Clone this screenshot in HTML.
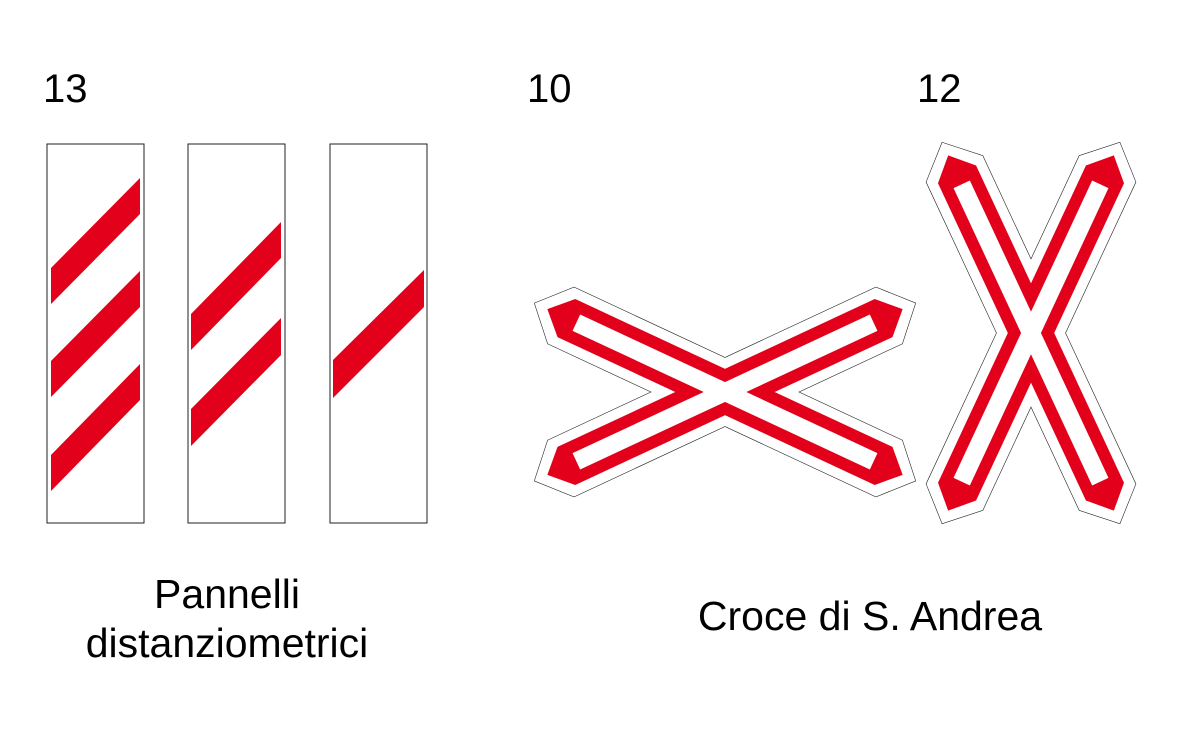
<!DOCTYPE html>
<html><head><meta charset="utf-8"><style>
html,body{margin:0;padding:0;background:#fff}
svg{display:block}
text{font-family:"Liberation Sans",Arial,sans-serif;fill:#000}
</style></head><body>
<svg width="1200" height="735" viewBox="0 0 1200 735">
<defs>
<polygon id="outer" points="-210,0 -181,-31 181,-31 210,0 181,31 -181,31"/>
<polygon id="red" points="-196,0 -175,-21 175,-21 196,0 175,21 -175,21"/>
<rect id="inner" x="-164" y="-9" width="328" height="18"/>
<g id="cross">
  <use href="#outer" transform="rotate(25)" fill="#fff" stroke="#222" stroke-width="1.2"/>
  <use href="#outer" transform="rotate(-25)" fill="#fff" stroke="#222" stroke-width="1.2"/>
  <use href="#outer" transform="rotate(25)" fill="#fff"/>
  <use href="#outer" transform="rotate(-25)" fill="#fff"/>
  <use href="#red" transform="rotate(25)" fill="#e2001a"/>
  <use href="#red" transform="rotate(-25)" fill="#e2001a"/>
  <use href="#inner" transform="rotate(25)" fill="#fff"/>
  <use href="#inner" transform="rotate(-25)" fill="#fff"/>
</g>
</defs>

<text x="43" y="102" font-size="40">13</text>
<text x="527" y="102" font-size="40">10</text>
<text x="917" y="102" font-size="40">12</text>

<g>
<rect x="47" y="144" width="97" height="379" fill="#fff" stroke="#222" stroke-width="1"/>
<polygon points="51,268 140,178 140,214 51,304" fill="#e2001a"/>
<polygon points="51,361 140,271 140,307 51,397" fill="#e2001a"/>
<polygon points="51,455 140,364 140,400 51,491" fill="#e2001a"/>
</g>
<g>
<rect x="188" y="144" width="97" height="379" fill="#fff" stroke="#222" stroke-width="1"/>
<polygon points="191,314 281,222 281,258 191,350" fill="#e2001a"/>
<polygon points="191,409 281,318 281,355 191,446" fill="#e2001a"/>
</g>
<g>
<rect x="330" y="144" width="97" height="379" fill="#fff" stroke="#222" stroke-width="1"/>
<polygon points="333,360 424,270 424,307 333,398" fill="#e2001a"/>
</g>

<g transform="translate(725,392)">
<use href="#cross"/>
</g>
<g transform="translate(1031,333) rotate(90)">
<use href="#cross"/>
</g>

<text x="227" y="608" font-size="41" text-anchor="middle">Pannelli</text>
<text x="227" y="657" font-size="41" text-anchor="middle">distanziometrici</text>
<text x="870" y="630" font-size="41" text-anchor="middle">Croce di S. Andrea</text>
</svg>
</body></html>
